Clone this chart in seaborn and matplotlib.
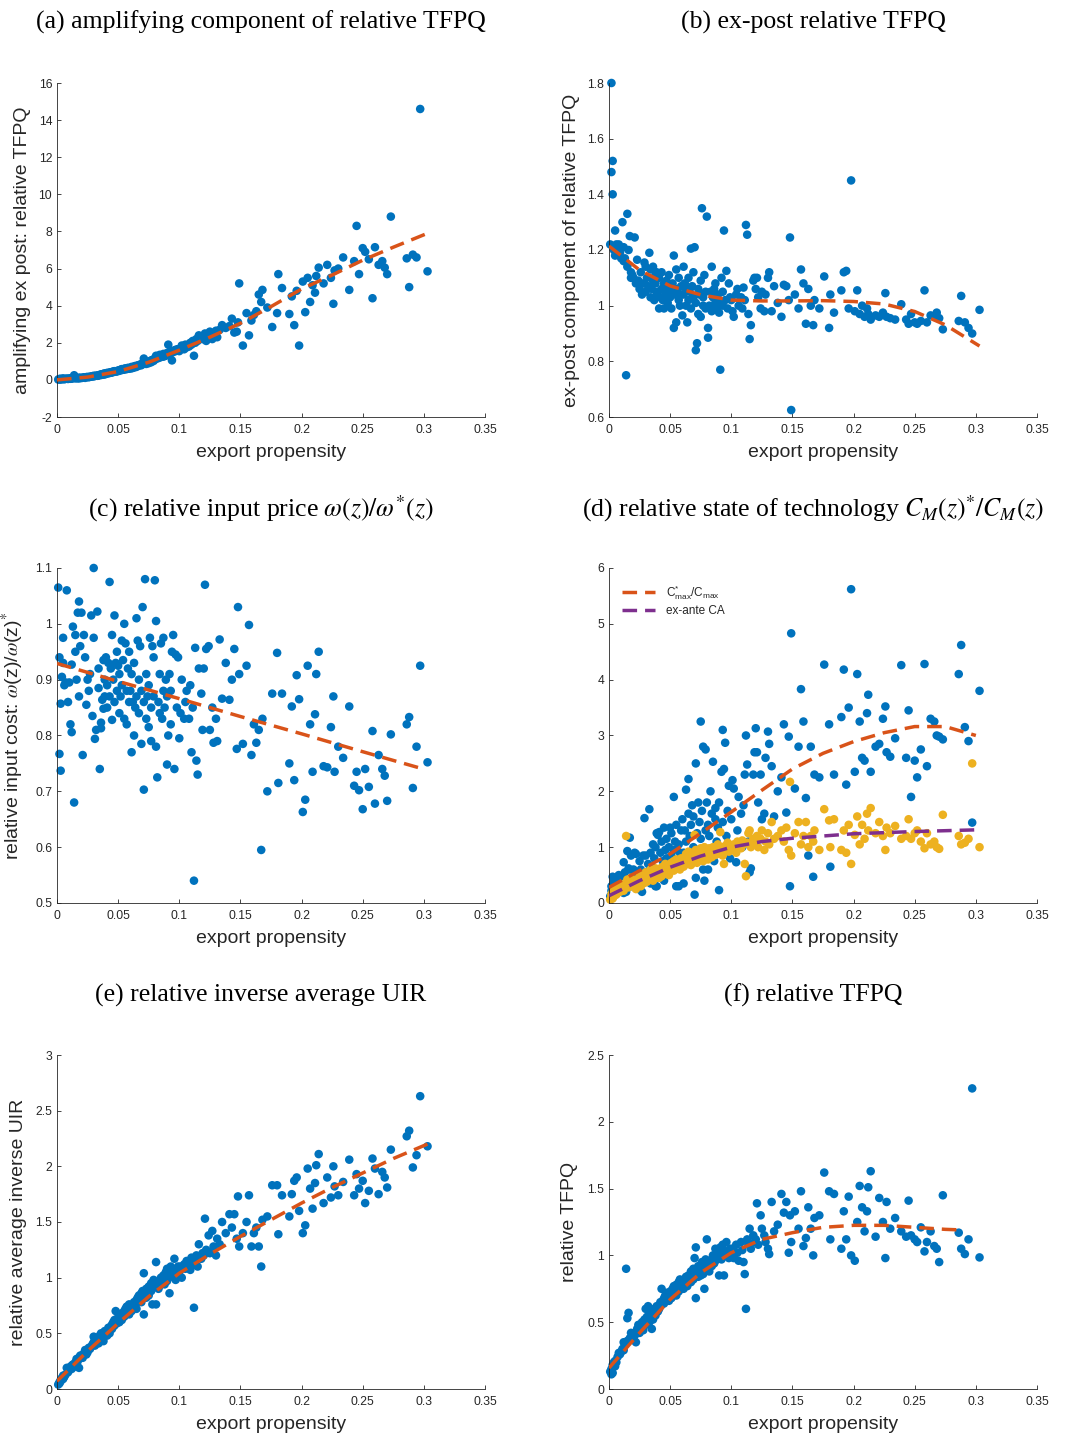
import matplotlib
matplotlib.use("Agg")
import matplotlib.pyplot as plt
import seaborn as sns
import pandas as pd

# ---------------- data ----------------
export_propensity = [
    0.001, 0.002, 0.002, 0.003, 0.003, 0.004, 0.005, 0.005, 0.006, 0.007, 0.008, 0.009, 0.010,
    0.011, 0.012, 0.012, 0.013, 0.014, 0.015, 0.015, 0.016, 0.017, 0.018, 0.018, 0.019,
    0.020, 0.021, 0.022, 0.023, 0.024, 0.025, 0.026, 0.027, 0.028, 0.029, 0.030, 0.030, 0.031,
    0.032, 0.033, 0.034, 0.034, 0.035, 0.036, 0.036, 0.037, 0.038, 0.038, 0.039, 0.039,
    0.040, 0.041, 0.041, 0.042, 0.043, 0.043, 0.044, 0.045, 0.045, 0.046, 0.047, 0.047, 0.048,
    0.049, 0.049, 0.050, 0.051, 0.051, 0.052, 0.053, 0.053, 0.054, 0.055, 0.055, 0.056, 0.057,
    0.057, 0.058, 0.059, 0.059,
    0.060, 0.061, 0.061, 0.062, 0.063, 0.063, 0.064, 0.065, 0.065, 0.066, 0.067, 0.067, 0.068,
    0.069, 0.069, 0.070, 0.071, 0.071, 0.072, 0.073, 0.073, 0.074, 0.075, 0.075, 0.076, 0.077,
    0.077, 0.078, 0.079, 0.079,
    0.080, 0.081, 0.081, 0.082, 0.083, 0.084, 0.084, 0.085, 0.086, 0.087, 0.087, 0.088, 0.089,
    0.090, 0.090, 0.091, 0.092, 0.093, 0.093, 0.094, 0.095, 0.096, 0.097, 0.098, 0.099,
    0.100, 0.101, 0.102, 0.104, 0.105, 0.106, 0.108, 0.109, 0.110, 0.111, 0.112, 0.113, 0.114,
    0.115, 0.116, 0.118, 0.119,
    0.120, 0.121, 0.122, 0.124, 0.125, 0.127, 0.128, 0.130, 0.131, 0.133, 0.135, 0.138,
    0.141, 0.143, 0.145, 0.147, 0.148, 0.149, 0.152, 0.155, 0.157, 0.159,
    0.161, 0.163, 0.165, 0.167, 0.168, 0.172, 0.176,
    0.180, 0.181, 0.184, 0.190, 0.192, 0.194, 0.196, 0.198,
    0.201, 0.203, 0.205, 0.207, 0.209, 0.211, 0.212, 0.214, 0.218,
    0.221, 0.224, 0.226, 0.227, 0.230, 0.234, 0.239,
    0.243, 0.245, 0.247, 0.250, 0.252, 0.255, 0.258,
    0.260, 0.263, 0.266, 0.268, 0.270, 0.273,
    0.286, 0.288, 0.291, 0.294, 0.297, 0.303,
]

amplifying = [
    0.02, 0.03, 0.05, 0.02, 0.06, 0.04, 0.05, 0.08, 0.03, 0.06, 0.07, 0.05, 0.08, 0.06, 0.1, 0.07,
    0.09, 0.25, 0.08, 0.12, 0.1, 0.09, 0.12, 0.08, 0.11,
    0.1, 0.12, 0.14, 0.11, 0.15, 0.16, 0.14, 0.18, 0.17, 0.2, 0.19, 0.22, 0.21, 0.23, 0.22, 0.25,
    0.24, 0.27, 0.26, 0.3, 0.28, 0.3, 0.33, 0.29, 0.35,
    0.33, 0.35, 0.38, 0.36, 0.4, 0.37, 0.41, 0.43, 0.39, 0.45, 0.44, 0.47, 0.46, 0.48, 0.45, 0.5,
    0.52, 0.49, 0.55, 0.53, 0.58, 0.56, 0.6, 0.55, 0.62, 0.6, 0.58, 0.65, 0.63, 0.6,
    0.65, 0.62, 0.7, 0.68, 0.72, 0.66, 0.75, 0.74, 0.7, 0.78, 0.8, 0.76, 0.82, 0.79, 0.85, 0.88,
    0.95, 1.15, 0.9, 0.93, 0.86, 0.95, 0.98, 0.9, 1.0, 1.05, 0.95, 1.08, 1.02, 1.1,
    1.1, 1.2, 1.3, 1.15, 1.25, 1.2, 1.35, 1.28, 1.3, 1.25, 1.4, 1.35, 1.3, 1.45, 1.4, 1.9, 1.5,
    1.42, 1.55, 1.05, 1.5, 1.6, 1.55, 1.65, 1.6,
    1.55, 1.7, 1.85, 1.65, 1.9, 1.75, 1.8, 2.0, 1.9, 2.1, 1.3, 2.0, 2.2, 2.1, 2.4, 2.3, 2.2,
    2.3, 2.5, 2.1, 2.4, 2.6, 2.2, 2.5, 2.65, 2.3, 2.7, 2.95, 2.8,
    2.9, 3.3, 2.55, 2.6, 3.1, 5.2, 1.85, 3.6, 2.4, 3.2,
    3.5, 3.7, 4.6, 4.2, 4.85, 3.9, 2.85,
    3.6, 5.7, 4.95, 3.55, 4.5, 2.95, 4.8, 1.85,
    5.3, 3.65, 5.5, 4.2, 5.1, 4.7, 5.6, 6.05, 5.2,
    6.2, 5.5, 4.1, 5.9, 6.0, 6.6, 4.85,
    6.4, 8.3, 5.7, 7.1, 6.9, 6.5, 4.4,
    7.15, 6.2, 6.4, 6.05, 5.7, 8.8,
    6.55, 5.0, 6.75, 6.6, 14.6, 5.85,
]

ex_post = [
    1.22, 1.80, 1.48, 1.52, 1.40, 1.20, 1.27, 1.18, 1.22, 1.21, 1.22, 1.19, 1.17, 1.30, 1.21,
    1.16, 1.17, 0.75, 1.33, 1.14, 1.20, 1.25, 1.12, 1.10, 1.11,
    1.10, 1.245, 1.08, 1.165, 1.09, 1.06, 1.12, 1.04, 1.08, 1.155, 1.05, 1.14, 1.10, 1.07, 1.19,
    1.03, 1.13, 1.06, 1.09, 1.14, 1.02, 1.11, 1.08, 1.04, 1.12,
    1.05, 0.99, 1.10, 1.03, 1.06, 1.12, 1.02, 1.08, 0.99, 1.05, 1.04, 1.09, 1.01, 1.07, 1.11,
    1.03, 1.05, 0.99, 1.08, 0.92, 1.18, 1.04, 1.13, 0.94, 1.06, 1.02, 1.10, 1.0, 1.07, 1.04,
    0.965, 1.14, 1.04, 1.08, 1.0, 1.06, 0.94, 1.1, 1.02, 1.05, 1.205, 0.99, 1.07, 1.03, 1.12,
    1.21, 0.84, 1.01, 0.865, 1.06, 0.97, 1.04, 0.96, 1.09, 1.35, 1.0, 1.03, 1.11, 0.99, 1.05,
    1.32, 0.885, 0.92, 1.0, 1.05, 1.14, 0.98, 1.03, 1.06, 1.01, 1.08, 0.99, 1.04, 1.02, 0.975,
    0.77, 1.10, 1.0, 1.05, 1.27, 1.02, 1.125, 0.99, 1.08, 1.03,
    1.02, 0.98, 0.96, 1.04, 1.06, 1.0, 1.03, 0.99, 1.065, 1.02, 1.29, 1.255, 0.97, 0.88, 0.93,
    1.09, 1.10,
    1.06, 1.1, 1.03, 0.99, 1.05, 0.98, 1.04, 1.10, 1.12, 0.98, 1.07, 1.01,
    0.96, 1.075, 1.07, 1.02, 1.245, 0.625, 1.04, 0.99, 1.13, 1.08,
    0.935, 1.06, 1.0, 0.93, 1.02, 0.99, 1.105,
    0.92, 1.04, 0.975, 1.055, 1.12, 1.125, 0.99, 1.45,
    0.98, 1.055, 0.97, 1.0, 0.96, 0.99, 0.97, 0.95, 0.965,
    0.96, 0.975, 1.045, 0.96, 0.955, 0.95, 1.005,
    0.95, 0.935, 0.97, 0.94, 0.935, 0.945, 1.055,
    0.94, 0.965, 0.96, 0.975, 0.955, 0.915,
    0.945, 1.035, 0.94, 0.92, 0.9, 0.985,
]

input_price = [
    1.065, 0.94, 0.767, 0.737, 0.857, 0.905, 0.975, 0.93, 0.89, 0.895, 1.06, 0.86, 0.895, 0.82,
    0.806, 0.927, 0.995, 0.68, 0.95, 0.98, 0.90, 1.02, 1.04, 0.87, 0.96,
    1.02, 0.765, 0.98, 0.94, 0.855, 0.90, 0.88, 0.91, 1.015, 0.835, 0.975, 1.10, 0.794, 0.81,
    1.022, 0.885, 0.92, 0.74, 0.823, 0.813, 0.864, 0.848, 0.935, 0.87, 0.90,
    0.94, 0.85, 0.89, 0.93, 1.075, 0.87, 0.92, 0.98, 0.828, 0.90, 1.015, 0.86, 0.93, 0.95, 0.88,
    0.925, 0.84, 0.91, 0.87, 0.97, 0.89, 0.935, 1.0, 0.83, 0.965, 0.82, 0.88, 0.92, 0.86, 0.95,
    0.88, 0.91, 0.77, 0.86, 0.80, 0.93, 0.85, 1.01, 0.87, 0.97, 0.84, 0.90, 0.96, 0.785, 0.88,
    1.03, 0.703, 0.86, 1.08, 0.83, 0.91, 0.87, 0.815, 0.89, 0.975, 0.79, 0.85, 0.96, 0.87, 0.94,
    1.078, 0.78, 1.005, 0.725, 0.86, 0.84, 0.91, 0.965, 0.83, 0.975, 0.88, 0.85, 0.9, 0.748,
    0.87, 0.80, 0.91, 0.82, 0.88, 0.95, 0.98, 0.74, 0.945, 0.85, 0.94,
    0.795, 0.84, 0.90, 0.83, 0.86, 0.88, 0.83, 0.89, 0.77, 0.85, 0.54, 0.957, 0.755, 0.73, 0.92,
    0.875, 0.81,
    0.92, 1.07, 0.955, 0.96, 0.81, 0.85, 0.787, 0.83, 0.79, 0.972, 0.866, 0.93,
    0.864, 0.9, 0.955, 0.776, 1.03, 0.91, 0.785, 0.925, 0.998, 0.765,
    0.82, 0.787, 0.81, 0.595, 0.83, 0.70, 0.875,
    0.948, 0.715, 0.875, 0.75, 0.852, 0.72, 0.908, 0.865,
    0.663, 0.685, 0.925, 0.82, 0.735, 0.838, 0.91, 0.95, 0.745,
    0.743, 0.815, 0.87, 0.735, 0.78, 0.76, 0.852,
    0.71, 0.735, 0.702, 0.668, 0.74, 0.708, 0.808,
    0.678, 0.765, 0.74, 0.728, 0.683, 0.802,
    0.82, 0.833, 0.706, 0.78, 0.925, 0.752,
]

tech_max = [
    0.12, 0.3, 0.22, 0.47, 0.15, 0.38, 0.25, 0.42, 0.2, 0.33, 0.5, 0.28, 0.45, 0.35, 0.73, 0.18,
    0.55, 0.2, 0.93, 0.4, 0.62, 1.17, 0.3, 0.85, 0.58,
    0.6, 0.9, 0.88, 0.45, 0.25, 0.75, 0.6, 0.2, 0.85, 1.52, 0.85, 0.4, 0.55, 0.7, 1.68, 0.9, 0.35,
    0.65, 1.05, 0.5, 0.8, 0.3, 1.0, 1.25, 0.3,
    1.22, 0.6, 1.27, 0.9, 0.45, 1.1, 0.75, 1.35, 0.4, 0.95, 0.8, 1.15, 0.55, 1.0, 0.7, 1.35, 0.85,
    1.25, 0.6, 1.9, 0.95, 1.1, 0.3, 1.4, 0.75, 0.3, 1.05, 0.9, 1.3, 0.65,
    1.5, 0.9, 0.35, 1.3, 1.1, 2.03, 0.8, 1.6, 2.22, 1.2, 1.4, 0.7, 1.75, 1.0, 1.55, 0.15, 2.5,
    0.45, 1.25, 1.8, 0.95, 1.45, 3.25, 1.15, 1.65, 0.6, 2.8, 0.4, 2.75, 1.3,
    1.8, 0.6, 1.4, 1.2, 2.0, 1.6, 0.9, 2.53, 0.75, 1.5, 1.7, 1.1, 1.35, 0.23, 1.8, 1.0, 2.35, 3.1,
    1.45, 2.4, 2.87, 1.2, 1.65, 2.1, 0.8,
    1.5, 2.2, 2.05, 0.73, 1.3, 1.9, 1.6, 1.0, 1.75, 2.3, 3.0, 2.48, 1.1, 0.55, 0.62, 2.3, 2.7,
    3.13, 2.7, 1.8, 2.3, 1.5, 1.6, 2.6, 3.07, 2.85, 2.45, 1.55, 2.0,
    2.25, 3.2, 1.62, 2.98, 0.3, 4.83, 2.05, 2.8, 3.83, 3.25,
    1.88, 0.85, 2.8, 0.47, 2.3, 2.25, 4.27,
    3.2, 0.65, 2.3, 3.33, 4.18, 2.12, 3.5, 5.62,
    2.35, 4.1, 3.25, 2.6, 2.55, 3.4, 3.73, 2.35, 2.8,
    2.85, 3.3, 3.52, 2.7, 2.62, 2.95, 4.26,
    2.6, 3.45, 1.9, 2.55, 2.25, 2.75, 4.28,
    2.45, 3.3, 3.25, 3.0, 2.98, 2.93,
    4.1, 4.62, 3.15, 2.9, 1.44, 3.8,
]

ex_ante_ca = [
    0.06, 0.1, 0.15, 0.08, 0.2, 0.12, 0.18, 0.25, 0.15, 0.22, 0.28, 0.2, 0.3, 0.25, 0.32, 0.22,
    0.35, 1.20, 0.3, 0.42, 0.28, 0.38, 0.45, 0.32, 0.4,
    0.3, 0.38, 0.25, 0.42, 0.35, 0.48, 0.3, 0.4, 0.5, 0.36, 0.45, 0.55, 0.38, 0.5, 0.42, 0.6,
    0.45, 0.52, 0.4, 0.58, 0.48, 0.55, 0.62, 0.45, 0.5,
    0.5, 0.58, 0.45, 0.62, 0.55, 0.48, 0.65, 0.52, 0.6, 0.7, 0.55, 0.62, 0.58, 0.66, 0.5, 0.68,
    0.6, 0.72, 0.62, 0.75, 0.58, 0.65, 0.78, 0.62, 0.7, 0.66, 0.74, 0.6, 0.8, 0.68,
    0.7, 0.78, 0.65, 0.82, 0.74, 0.88, 0.7, 0.8, 0.92, 0.75, 0.85, 0.68, 0.9, 0.78, 0.86, 1.22,
    0.8, 0.95, 0.72, 0.88, 0.82, 0.9, 0.78, 0.98, 0.85, 0.92, 0.75, 1.0, 0.88, 0.82,
    0.85, 0.92, 0.78, 0.98, 0.88, 0.95, 0.82, 1.0, 0.9, 0.86, 0.97, 0.93, 1.05, 0.88, 0.95, 1.27,
    0.9, 1.0, 0.85, 0.7, 1.02, 0.95, 1.08, 0.92, 1.0,
    1.0, 0.95, 1.05, 0.9, 1.1, 1.0, 0.98, 1.12, 1.05, 0.7, 0.48, 1.08, 1.25, 1.3, 1.0, 1.15, 1.1,
    1.1, 1.2, 1.0, 1.15, 1.3, 0.95, 1.1, 1.25, 1.05, 1.45, 1.15, 1.2,
    1.3, 1.1, 1.35, 0.95, 2.17, 0.85, 1.25, 1.45, 1.05, 1.2,
    1.45, 1.0, 1.2, 1.1, 1.3, 0.95, 1.68,
    1.48, 1.0, 1.5, 0.95, 1.3, 0.9, 1.4, 0.7,
    1.22, 1.55, 1.05, 1.4, 1.15, 1.6, 1.3, 1.7, 1.25,
    1.45, 1.2, 0.95, 1.35, 1.25, 1.38, 1.15,
    1.2, 1.5, 1.15, 1.25, 1.3, 1.1, 0.98,
    1.25, 1.05, 1.1, 1.0, 0.97, 1.58,
    1.2, 1.05, 1.08, 1.15, 2.5, 1.0,
]

inverse_uir = [
    0.04, 0.06, 0.05, 0.08, 0.07, 0.1, 0.09, 0.12, 0.11, 0.13, 0.19, 0.15, 0.17, 0.2, 0.18, 0.21,
    0.22, 0.2, 0.24, 0.22, 0.27, 0.25, 0.28, 0.19, 0.3,
    0.3, 0.28, 0.32, 0.35, 0.31, 0.33, 0.37, 0.36, 0.38, 0.4, 0.42, 0.47, 0.39, 0.44, 0.43, 0.46,
    0.41, 0.48, 0.45, 0.5, 0.47, 0.49, 0.43, 0.52, 0.5,
    0.5, 0.52, 0.48, 0.55, 0.53, 0.5, 0.56, 0.58, 0.54, 0.6, 0.62, 0.57, 0.7, 0.59, 0.63, 0.61,
    0.65, 0.6, 0.64, 0.68, 0.62, 0.66, 0.7, 0.65, 0.72, 0.68, 0.74, 0.7, 0.67, 0.76,
    0.72, 0.7, 0.75, 0.73, 0.78, 0.74, 0.76, 0.8, 0.72, 0.82, 0.79, 0.84, 0.8, 0.86, 0.78, 0.88,
    0.67, 1.04, 0.85, 0.9, 0.82, 0.87, 0.92, 0.84, 0.9, 0.95, 0.88, 0.76, 0.93, 0.98,
    0.92, 1.14, 0.76, 0.95, 0.9, 0.97, 0.93, 1.0, 0.95, 1.02, 0.98, 0.94, 1.05, 0.97, 1.08, 1.0,
    0.86, 1.04, 1.1, 1.01, 1.06, 1.17, 0.98, 1.05, 1.1,
    1.05, 1.1, 1.0, 1.12, 1.08, 1.15, 1.1, 1.07, 1.18, 1.12, 0.73, 1.15, 1.2, 1.1, 1.3, 1.17, 1.22,
    1.2, 1.53, 1.25, 1.38, 1.22, 1.42, 1.28, 1.2, 1.35, 1.3, 1.5, 1.4,
    1.57, 1.45, 1.57, 1.35, 1.73, 1.28, 1.4, 1.5, 1.74, 1.28,
    1.4, 1.45, 1.28, 1.1, 1.52, 1.55, 1.83,
    1.83, 1.39, 1.74, 1.55, 1.75, 1.87, 1.9, 1.6,
    1.4, 1.47, 1.98, 1.8, 1.62, 1.85, 2.01, 2.11, 1.67,
    1.9, 1.72, 2.0, 1.82, 1.74, 1.86, 2.06,
    1.74, 1.93, 1.8, 1.87, 1.67, 1.78, 2.07,
    1.98, 1.75, 1.95, 1.9, 1.81, 2.15,
    2.27, 2.32, 1.99, 2.1, 2.63, 2.18,
]

relative_tfpq = [
    0.13, 0.11, 0.15, 0.12, 0.18, 0.2, 0.17, 0.21, 0.2, 0.24, 0.27, 0.26, 0.28, 0.3, 0.35, 0.29,
    0.33, 0.90, 0.53, 0.36, 0.57, 0.38, 0.42, 0.37, 0.4,
    0.38, 0.4, 0.35, 0.45, 0.48, 0.42, 0.47, 0.5, 0.44, 0.52, 0.6, 0.48, 0.54, 0.62, 0.5, 0.55,
    0.58, 0.45, 0.52, 0.57, 0.6, 0.55, 0.58, 0.62, 0.6,
    0.58, 0.62, 0.6, 0.65, 0.63, 0.75, 0.66, 0.68, 0.64, 0.7, 0.67, 0.72, 0.69, 0.7, 0.66, 0.73,
    0.71, 0.68, 0.75, 0.72, 0.77, 0.74, 0.7, 0.78, 0.76, 0.8, 0.73, 0.82, 0.78, 0.75,
    0.78, 0.8, 0.75, 0.82, 0.79, 0.84, 0.77, 0.8, 0.85, 0.83, 0.88, 0.8, 0.86, 0.82, 0.9, 0.98,
    1.06, 0.68, 0.87, 0.84, 0.92, 0.88, 0.85, 0.9, 0.95, 0.86, 0.93, 0.75, 0.9, 0.97,
    1.12, 0.9, 0.93, 0.88, 0.95, 0.92, 0.97, 1.0, 0.94, 1.05, 0.96, 0.99, 1.02, 0.85, 1.0, 1.06,
    0.97, 1.04, 1.08, 0.85, 1.0, 1.1, 1.03, 0.98, 1.05,
    1.0, 1.05, 0.98, 1.08, 1.02, 0.96, 1.1, 1.04, 0.95, 0.86, 0.6, 1.12, 1.08, 1.2, 1.05, 1.15, 1.1,
    1.12, 1.39, 1.08, 1.3, 1.2, 1.15, 1.1, 1.05, 1.01, 1.4, 1.18, 1.23,
    1.46, 1.32, 1.4, 1.02, 1.3, 1.1, 1.33, 1.2, 1.48, 1.07,
    1.13, 1.36, 1.2, 1.0, 1.28, 1.3, 1.62,
    1.48, 1.12, 1.46, 1.05, 1.33, 1.12, 1.44, 1.0,
    0.96, 1.25, 1.52, 1.36, 1.18, 1.33, 1.51, 1.63, 1.14,
    1.43, 1.25, 0.98, 1.4, 1.2, 1.28, 1.18,
    1.14, 1.41, 1.15, 1.12, 1.1, 1.21, 1.03,
    1.1, 1.18, 1.07, 1.05, 0.95, 1.45,
    1.17, 1.05, 1.01, 1.12, 2.25, 0.985,
]

# fitted (dashed) curves
fit_x = [0.0, 0.025, 0.05, 0.075, 0.1, 0.125, 0.15, 0.175, 0.2, 0.225, 0.25, 0.275, 0.303]
fit_amplifying = [0.0, 0.15, 0.45, 0.95, 1.6, 2.3, 3.05, 3.95, 4.9, 5.65, 6.45, 7.15, 7.9]
fit_ex_post = [1.214, 1.128, 1.071, 1.039, 1.02, 1.017, 1.017, 1.018, 1.015, 1.006, 0.979, 0.931, 0.855]
fit_x_c = [0.0, 0.05, 0.1, 0.15, 0.2, 0.25, 0.298]
fit_input_price = [0.929, 0.897, 0.866, 0.834, 0.803, 0.771, 0.741]
fit_x_d = [0.0, 0.025, 0.05, 0.075, 0.1, 0.125, 0.15, 0.175, 0.2, 0.225, 0.25, 0.275, 0.3]
fit_tech_max = [0.28, 0.58, 0.88, 1.25, 1.63, 2.02, 2.4, 2.68, 2.89, 3.05, 3.16, 3.16, 3.0]
fit_ex_ante = [0.13, 0.4, 0.64, 0.84, 1.0, 1.1, 1.16, 1.2, 1.24, 1.26, 1.28, 1.295, 1.31]
fit_inverse_uir = [0.07, 0.34, 0.59, 0.83, 1.04, 1.21, 1.37, 1.52, 1.67, 1.81, 1.94, 2.07, 2.2]
fit_x_f = [0.0, 0.025, 0.05, 0.075, 0.1, 0.125, 0.15, 0.175, 0.2, 0.225, 0.25, 0.275, 0.29]
fit_tfpq = [0.157, 0.42, 0.67, 0.87, 1.02, 1.12, 1.17, 1.21, 1.225, 1.225, 1.21, 1.195, 1.19]

x_ticks = [0, 0.05, 0.1, 0.15, 0.2, 0.25, 0.3, 0.35]
x_ticklabels = ["0", "0.05", "0.1", "0.15", "0.2", "0.25", "0.3", "0.35"]
yt_a = [-2, 0, 2, 4, 6, 8, 10, 12, 14, 16]
yl_a = ["-2", "0", "2", "4", "6", "8", "10", "12", "14", "16"]
yt_b = [0.6, 0.8, 1.0, 1.2, 1.4, 1.6, 1.8]
yl_b = ["0.6", "0.8", "1", "1.2", "1.4", "1.6", "1.8"]
yt_c = [0.5, 0.6, 0.7, 0.8, 0.9, 1.0, 1.1]
yl_c = ["0.5", "0.6", "0.7", "0.8", "0.9", "1", "1.1"]
yt_d = [0, 1, 2, 3, 4, 5, 6]
yl_d = ["0", "1", "2", "3", "4", "5", "6"]
yt_e = [0, 0.5, 1.0, 1.5, 2.0, 2.5, 3.0]
yl_e = ["0", "0.5", "1", "1.5", "2", "2.5", "3"]
yt_f = [0, 0.5, 1.0, 1.5, 2.0, 2.5]
yl_f = ["0", "0.5", "1", "1.5", "2", "2.5"]

titles = [
    "(a) amplifying component of relative TFPQ",
    "(b) ex-post relative TFPQ",
    r"(c) relative input price $\omega(z)/\omega^{*}(z)$",
    r"(d) relative state of technology $C_M(z)^{*}/C_M(z)$",
    "(e) relative inverse average UIR",
    "(f) relative TFPQ",
]

# ---------------- style ----------------
BLUE = "#0072BD"
ORANGE = "#D95319"
YELLOW = "#EDB120"
PURPLE = "#7E2F8E"
GREY = "#262626"

sns.set_theme(style="ticks")
plt.rcParams.update({
    "font.family": ["Liberation Sans", "DejaVu Sans"],
    "mathtext.fontset": "stix",
    "axes.unicode_minus": False,
    "axes.edgecolor": GREY,
    "axes.linewidth": 0.6,
    "axes.labelcolor": GREY,
    "xtick.color": GREY,
    "ytick.color": GREY,
})

fig = plt.figure(figsize=(10.7, 14.38), dpi=100)
W, H = 1070.0, 1438.0
cols = [57, 609]
rows = [(83, 417), (568, 903), (1055, 1389)]


def make_ax(col, row):
    top, bot = rows[row]
    return fig.add_axes([cols[col] / W, 1 - bot / H, 428 / W, (bot - top) / H])


def style_ax(ax, yt, yl, ylim, ylabel, ylab_x):
    ax.set_xlim(0, 0.35)
    ax.set_ylim(*ylim)
    ax.set_xticks(x_ticks)
    ax.set_xticklabels(x_ticklabels)
    ax.set_yticks(yt)
    ax.set_yticklabels(yl)
    ax.tick_params(direction="in", length=3, width=0.6, labelsize=8.7, colors=GREY)
    ax.tick_params(axis="x", pad=5)
    ax.tick_params(axis="y", pad=3.5)
    sns.despine(ax=ax)
    ax.set_xlabel("export propensity", fontsize=14, color=GREY)
    ax.xaxis.set_label_coords(0.5, -0.082)
    if ylabel:
        ax.set_ylabel(ylabel, fontsize=14, color=GREY)
        ax.yaxis.set_label_coords(ylab_x, 0.5)
    else:
        ax.set_ylabel("")


def scatter(ax, y, color):
    df = pd.DataFrame({"x": export_propensity, "y": y})
    sns.scatterplot(data=df, x="x", y="y", ax=ax, color=color, s=38,
                    linewidth=0, edgecolor="none", clip_on=False, zorder=2)


def fitline(ax, fx, fy, color):
    df = pd.DataFrame({"x": fx, "y": fy})
    sns.lineplot(data=df, x="x", y="y", ax=ax, color=color, linewidth=2.5,
                 sort=False, estimator=None, zorder=3)
    line = ax.get_lines()[-1]
    line.set_dashes((4.2, 2.3))
    return line


# (a)
ax = make_ax(0, 0)
scatter(ax, amplifying, BLUE)
fitline(ax, fit_x, fit_amplifying, ORANGE)
style_ax(ax, yt_a, yl_a, (-2, 16), "amplifying ex post: relative TFPQ", -0.061)

# (b)
ax = make_ax(1, 0)
scatter(ax, ex_post, BLUE)
fitline(ax, fit_x, fit_ex_post, ORANGE)
style_ax(ax, yt_b, yl_b, (0.6, 1.8), "ex-post component of relative TFPQ", -0.068)

# (c)
ax = make_ax(0, 1)
scatter(ax, input_price, BLUE)
fitline(ax, fit_x_c, fit_input_price, ORANGE)
style_ax(ax, yt_c, yl_c, (0.5, 1.1),
         r"relative input cost: $\omega$(z)/$\omega$(z)$^{*}$", -0.072)

# (d)
ax = make_ax(1, 1)
scatter(ax, tech_max, BLUE)
scatter(ax, ex_ante_ca, YELLOW)
l1 = fitline(ax, fit_x_d, fit_tech_max, ORANGE)
l2 = fitline(ax, fit_x_d, fit_ex_ante, PURPLE)
style_ax(ax, yt_d, yl_d, (0, 6), None, None)
ax.legend(handles=[l1, l2],
          labels=[r"$\mathregular{C^{*}_{max}/C_{max}}$", "ex-ante CA"],
          loc="upper left", bbox_to_anchor=(0.03, 0.955), frameon=False,
          fontsize=8.5, handlelength=2.8, handletextpad=0.9, labelspacing=0.3,
          borderpad=0, borderaxespad=0)

# (e)
ax = make_ax(0, 2)
scatter(ax, inverse_uir, BLUE)
fitline(ax, fit_x, fit_inverse_uir, ORANGE)
style_ax(ax, yt_e, yl_e, (0, 3), "relative average inverse UIR", -0.071)

# (f)
ax = make_ax(1, 2)
scatter(ax, relative_tfpq, BLUE)
fitline(ax, fit_x_f, fit_tfpq, ORANGE)
style_ax(ax, yt_f, yl_f, (0, 2.5), "relative TFPQ", -0.072)

# titles
title_pos = [(261, 22), (813, 22), (261, 509), (813, 509), (261, 995), (813, 995)]
for t, (tx, ty) in zip(titles, title_pos):
    fig.text(tx / W, 1 - ty / H, t, ha="center", va="center", fontsize=18.5,
             family=["Liberation Serif", "DejaVu Serif"], color="black")

fig.savefig("out.png", dpi=100)
